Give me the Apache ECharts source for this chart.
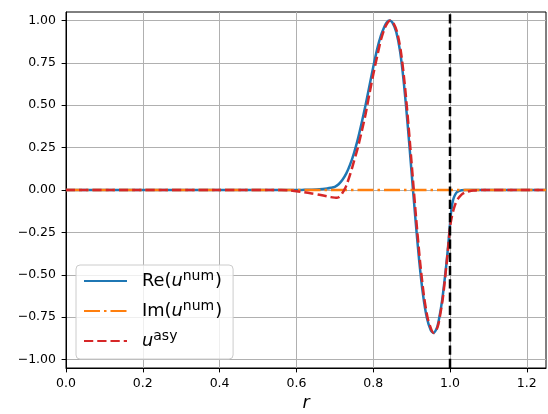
<!DOCTYPE html>
<html><head><meta charset="utf-8">
<script src="https://cdn.jsdelivr.net/npm/echarts@6/dist/echarts.min.js"></script>
<style>html,body{margin:0;padding:0;background:#fff}#c{width:548px;height:414px}</style>
</head><body><div id="c"></div>
<script>
// ---- data ----
const xTicks = [0, 0.2, 0.4, 0.6, 0.8, 1.0, 1.2];
const yTicks = [-1, -0.75, -0.5, -0.25, 0, 0.25, 0.5, 0.75, 1];
const xRange = [0, 1.25];
const yRange = [-1.05, 1.05];

const reX = [0, 0.60, 0.62, 0.64, 0.66, 0.68, 0.69, 0.70, 0.71, 0.72, 0.73, 0.74, 0.75, 0.76, 0.77, 0.78, 0.79, 0.80, 0.81, 0.82, 0.83, 0.835, 0.842, 0.85, 0.86, 0.87, 0.88, 0.89, 0.90, 0.91, 0.92, 0.93, 0.94, 0.95, 0.957, 0.965, 0.97, 0.98, 0.99, 0.995, 1.00, 1.0025, 1.005, 1.0075, 1.01, 1.015, 1.02, 1.03, 1.04, 1.25];
const reY = [0, 0, 0.001, 0.002, 0.004, 0.009, 0.013, 0.019, 0.034, 0.060, 0.098, 0.151, 0.218, 0.300, 0.396, 0.500, 0.612, 0.724, 0.828, 0.910, 0.967, 0.988, 1.000, 0.988, 0.933, 0.818, 0.628, 0.378, 0.103, -0.172, -0.422, -0.622, -0.757, -0.827, -0.843, -0.819, -0.779, -0.644, -0.449, -0.334, -0.200, -0.137, -0.094, -0.065, -0.045, -0.021, -0.010, -0.002, 0, 0];

const imX = [0, 1.25];
const imY = [0, 0];

const asyX = [0, 0.56, 0.58, 0.60, 0.62, 0.64, 0.66, 0.68, 0.69, 0.70, 0.705, 0.71, 0.715, 0.72, 0.725, 0.73, 0.74, 0.75, 0.76, 0.77, 0.78, 0.79, 0.80, 0.81, 0.82, 0.83, 0.837, 0.844, 0.852, 0.862, 0.872, 0.882, 0.892, 0.902, 0.912, 0.922, 0.932, 0.942, 0.952, 0.958, 0.966, 0.971, 0.981, 0.99, 0.995, 1.00, 1.005, 1.01, 1.015, 1.02, 1.03, 1.04, 1.05, 1.06, 1.08, 1.25];
const asyY = [0, 0, -0.002, -0.007, -0.013, -0.020, -0.028, -0.037, -0.042, -0.045, -0.046, -0.043, -0.033, -0.017, 0.002, 0.026, 0.092, 0.170, 0.250, 0.345, 0.445, 0.565, 0.680, 0.785, 0.885, 0.955, 0.985, 1.000, 0.988, 0.933, 0.818, 0.628, 0.378, 0.103, -0.172, -0.422, -0.622, -0.757, -0.827, -0.843, -0.819, -0.779, -0.644, -0.460, -0.345, -0.220, -0.155, -0.110, -0.077, -0.054, -0.027, -0.013, -0.007, -0.003, 0, 0];

const boundaryR = [1.0];

const seriesNames = ['Re', 'Im', 'asy'];
const legendLabels = {
  Re: '{sp| }{n|Re(}{i|u}{s|num}{n|)}',
  Im: '{sp| }{n|Im(}{i|u}{s|num}{n|)}',
  asy: '{sp| }{i|u}{s|asy}'
};

// ---- chart ----
const FONT = 'DejaVu Sans';
const pairs = (xs, ys) => xs.map((x, i) => [x, ys[i]]);
const fmtY = v => (v < 0 ? '\u2212' : '') + Math.abs(v).toFixed(2);
const fmtX = v => (v < 0 ? '\u2212' : '') + Math.abs(v).toFixed(1);

const chart = echarts.init(document.getElementById('c'), null, {renderer: 'canvas'});
chart.setOption({
  animation: false,
  backgroundColor: '#ffffff',
  grid: {left: 66, right: 2, top: 12, bottom: 46, containLabel: false, outerBoundsMode: 'none',
         show: true, borderColor: '#000', borderWidth: 1, backgroundColor: 'transparent'},
  xAxis: {
    type: 'value', min: xRange[0], max: xRange[1],
    name: 'r', nameLocation: 'middle', nameGap: 26,
    nameTextStyle: {fontFamily: FONT, fontSize: 17.5, fontStyle: 'italic', color: '#000'},
    axisLine: {show: true, onZero: false, lineStyle: {color: '#000', width: 1}},
    axisTick: {show: true, inside: false, length: 4.4, lineStyle: {color: '#000', width: 1}, customValues: xTicks},
    axisLabel: {customValues: xTicks, formatter: fmtX, fontFamily: FONT, fontSize: 12.5, color: '#000', margin: 9},
    splitLine: {show: true, lineStyle: {color: '#b0b0b0', width: 1}}
  },
  yAxis: {
    type: 'value', min: yRange[0], max: yRange[1],
    axisLine: {show: true, onZero: false, lineStyle: {color: '#000', width: 1}},
    axisTick: {show: true, inside: false, length: 4.4, lineStyle: {color: '#000', width: 1}, customValues: yTicks},
    axisLabel: {customValues: yTicks, formatter: fmtY, fontFamily: FONT, fontSize: 12.5, color: '#000', margin: 10},
    splitLine: {show: true, lineStyle: {color: '#b0b0b0', width: 1}}
  },
  legend: {
    data: seriesNames,
    orient: 'vertical', left: 76, top: 265,
    padding: [4, 11, 9, 7],
    itemWidth: 43, itemHeight: 14, itemGap: 9,
    backgroundColor: 'rgba(255,255,255,0.8)',
    borderColor: '#cccccc', borderWidth: 1, borderRadius: 4,
    itemStyle: {opacity: 0},
    formatter: name => legendLabels[name],
    textStyle: {
      fontFamily: FONT, fontSize: 17.8, color: '#000',
      rich: {
        sp: {width: 10, fontSize: 17.8, lineHeight: 24},
        n: {fontFamily: FONT, fontSize: 17.8, lineHeight: 24, color: '#000'},
        i: {fontFamily: FONT, fontSize: 17.8, fontStyle: 'italic', lineHeight: 24, color: '#000'},
        s: {fontFamily: FONT, fontSize: 14, lineHeight: 14, verticalAlign: 'top', color: '#000', padding: [0, 1, 0, 0]}
      }
    }
  },
  series: [
    {name: 'Re', type: 'line', data: pairs(reX, reY), symbol: 'none', showSymbol: false, smooth: 0.25,
     lineStyle: {color: '#1f77b4', width: 2.5}, itemStyle: {color: '#1f77b4'}},
    {name: 'Im', type: 'line', data: pairs(imX, imY), symbol: 'none', showSymbol: false,
     lineStyle: {color: '#ff7f0e', width: 2.5, type: [16, 4, 2.5, 4]}, itemStyle: {color: '#ff7f0e'}},
    {name: 'asy', type: 'line', data: pairs(asyX, asyY), symbol: 'none', showSymbol: false, smooth: 0.25,
     lineStyle: {color: '#d62728', width: 2.5, type: [9.25, 4]}, itemStyle: {color: '#d62728'}},
    {name: 'boundary', type: 'line', data: [[boundaryR[0], yRange[0]], [boundaryR[0], yRange[1]]], symbol: 'none', showSymbol: false,
     lineStyle: {color: '#000', width: 2.5, type: [9.25, 4]}, itemStyle: {color: '#000'}}
  ]
});
</script></body></html>
